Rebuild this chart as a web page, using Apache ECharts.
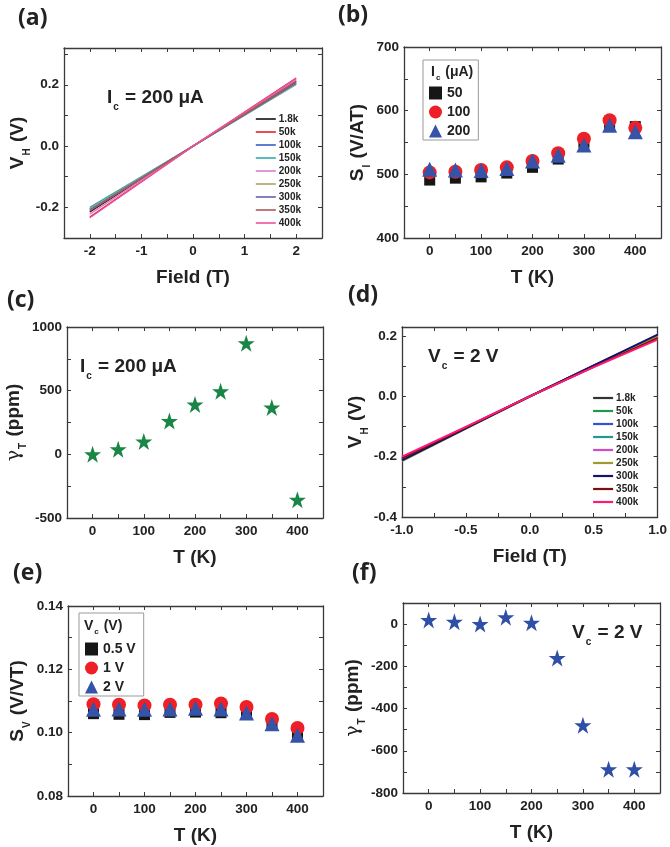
<!DOCTYPE html>
<html>
<head>
<meta charset="utf-8">
<script src="https://cdn.jsdelivr.net/npm/echarts@6/dist/echarts.min.js"></script>
<style>
  html, body { margin: 0; padding: 0; background: #fff; }
  #chart { width: 670px; height: 847px; }
</style>
</head>
<body>
<div id="chart"></div>
<script>
// ---- data ----
const tempK = [0, 50, 100, 150, 200, 250, 300, 350, 400]
const curveNames = ['1.8k', '50k', '100k', '150k', '200k', '250k', '300k', '350k', '400k']

// (a) V_H vs field at Ic = 200 uA
const fieldA = [-2, 0, 2]
const vhA = [
  [-0.215, 0, 0.212],
  [-0.232, 0, 0.222],
  [-0.205, 0, 0.207],
  [-0.200, 0, 0.201],
  [-0.222, 0, 0.216],
  [-0.206, 0, 0.203],
  [-0.209, 0, 0.205],
  [-0.212, 0, 0.210],
  [-0.234, 0, 0.220]
]
const colorsA = ['#111111', '#e8202a', '#3a5cc8', '#35aaa8', '#dd7ccc', '#a8a86a', '#6262a6', '#a85a5a', '#f0509c']

// (b) S_I vs T
const siNames = ['50', '100', '200']
const si50 = [491, 494, 496, 502, 511, 524, 550, 577, 575]
const si100 = [503, 504, 507, 511, 521, 533, 556, 585, 573]
const si200 = [508, 507, 506, 509, 521, 530, 546, 577, 567]

// (c) gamma_T at Ic = 200 uA
const gammaC = [0, 40, 101, 261, 391, 495, 872, 367, -356]

// (d) V_H vs field at Vc = 2 V
const fieldD = [-1, -0.5, 0, 0.5, 1]
const vhD = [
  [-0.210, -0.105, 0, 0.101, 0.198],
  [-0.208, -0.104, 0, 0.101, 0.200],
  [-0.207, -0.104, 0, 0.102, 0.203],
  [-0.206, -0.104, 0, 0.101, 0.199],
  [-0.203, -0.102, 0, 0.099, 0.195],
  [-0.215, -0.107, 0, 0.101, 0.200],
  [-0.212, -0.106, 0, 0.103, 0.205],
  [-0.205, -0.103, 0, 0.098, 0.193],
  [-0.200, -0.101, 0, 0.097, 0.188]
]
const colorsD = ['#333333', '#1f9a4a', '#3355cc', '#1f9898', '#d548c8', '#9c9c28', '#141470', '#7a0f0f', '#ff1a78']

// (e) S_V vs T
const svNames = ['0.5 V', '1 V', '2 V']
const sv05 = [0.1060, 0.1058, 0.1057, 0.1064, 0.1065, 0.1063, 0.1065, 0.1027, 0.0997]
const sv1 = [0.1090, 0.1088, 0.1086, 0.1088, 0.1088, 0.1092, 0.1081, 0.1043, 0.1015]
const sv2 = [0.1074, 0.1075, 0.1074, 0.1075, 0.1077, 0.1075, 0.1062, 0.1028, 0.0992]

// (f) gamma_T at Vc = 2 V
const gammaF = [20, 11, 0, 33, 6, -161, -479, -688, -688]

// ---- ticks ----
const tLabels = [0, 100, 200, 300, 400]
const tTicks = [0, 50, 100, 150, 200, 250, 300, 350, 400]
const fieldALabels = [-2, -1, 0, 1, 2]
const fieldATicks = [-2, -1.5, -1, -0.5, 0, 0.5, 1, 1.5, 2]
const vhALabels = [-0.2, 0, 0.2]
const vhATicks = [-0.3, -0.2, -0.1, 0, 0.1, 0.2, 0.3]
const siLabels = [400, 500, 600, 700]
const siTicks = [400, 450, 500, 550, 600, 650, 700]
const gcLabels = [-500, 0, 500, 1000]
const gcTicks = [-500, -250, 0, 250, 500, 750, 1000]
const fieldDLabels = [-1, -0.5, 0, 0.5, 1]
const fieldDTicks = [-1, -0.75, -0.5, -0.25, 0, 0.25, 0.5, 0.75, 1]
const vhDLabels = [-0.4, -0.2, 0, 0.2]
const vhDTicks = [-0.4, -0.3, -0.2, -0.1, 0, 0.1, 0.2]
const svLabels = [0.08, 0.10, 0.12, 0.14]
const svTicks = [0.08, 0.09, 0.10, 0.11, 0.12, 0.13, 0.14]
const gfLabels = [-800, -600, -400, -200, 0]
const gfTicks = [-800, -700, -600, -500, -400, -300, -200, -100, 0, 100]

const FONT = 'Liberation Sans, Arial, sans-serif'
const AX = '#3a3a3a'
const starPath = 'path://M50,0 L61.8,35.5 L99,35.5 L69,57.5 L80.5,93 L50,71 L19.5,93 L31,57.5 L1,35.5 L38.2,35.5 Z'

const rich = (size) => ({
  m: { fontSize: size, fontWeight: 'bold', fontFamily: FONT, color: '#222', lineHeight: Math.round(size * 1.45) },
  s: { fontSize: Math.round(size * 0.55), fontWeight: 'bold', fontFamily: FONT, color: '#222', verticalAlign: 'bottom', lineHeight: Math.round(size * 0.6), padding: [0, 1, 0, 1] },
  g: { fontSize: size, fontFamily: 'DejaVu Serif, serif', color: '#222', lineHeight: Math.round(size * 1.45) }
})

const grids = [
  { left: 64, top: 48, width: 258, height: 190 },
  { left: 404, top: 47, width: 257, height: 191 },
  { left: 67, top: 327, width: 256, height: 191 },
  { left: 402, top: 327, width: 256, height: 190 },
  { left: 68, top: 606, width: 255, height: 190 },
  { left: 403, top: 603, width: 257, height: 190 }
]

const xAxes = []
const yAxes = []

function addAxes (g, xr, xl, xt, xfmt, xname, yr, yl, yt, yfmt, yname, ygap) {
  const common = {
    type: 'value',
    gridIndex: g,
    axisLine: { show: true, onZero: false, lineStyle: { color: AX, width: 1.3 } },
    splitLine: { show: false }
  }
  xAxes.push(Object.assign({}, common, {
    position: 'bottom', min: xr[0], max: xr[1],
    axisTick: { show: true, inside: true, length: 4, customValues: xt, lineStyle: { color: AX } },
    axisLabel: { customValues: xl, formatter: xfmt, margin: 6, fontSize: 13.5, fontWeight: 'bold', fontFamily: FONT, color: '#222' },
    name: xname, nameLocation: 'middle', nameGap: 26,
    nameTextStyle: { rich: rich(19) }
  }))
  xAxes.push(Object.assign({}, common, {
    position: 'top', min: xr[0], max: xr[1],
    axisTick: { show: true, inside: true, length: 4, customValues: xt, lineStyle: { color: AX } },
    axisLabel: { show: false }
  }))
  yAxes.push(Object.assign({}, common, {
    position: 'left', min: yr[0], max: yr[1],
    axisTick: { show: true, inside: true, length: 4, customValues: yt, lineStyle: { color: AX } },
    axisLabel: { customValues: yl, formatter: yfmt, margin: 5, fontSize: 13.5, fontWeight: 'bold', fontFamily: FONT, color: '#222' },
    name: yname, nameLocation: 'middle', nameRotate: 90, nameGap: ygap,
    nameTextStyle: { rich: rich(19) }
  }))
  yAxes.push(Object.assign({}, common, {
    position: 'right', min: yr[0], max: yr[1],
    axisTick: { show: true, inside: true, length: 4, customValues: yt, lineStyle: { color: AX } },
    axisLabel: { show: false }
  }))
}

const f1 = v => v.toFixed(1)
const f2 = v => v.toFixed(2)
const f0 = v => String(Math.round(v))

addAxes(0, [-2.5, 2.5], fieldALabels, fieldATicks, f0, '{m|Field (T)}',
  [-0.3, 0.32], vhALabels, vhATicks, f1, '{m|V}{s|H}{m| (V)}', 28)
addAxes(1, [-50, 450], tLabels, tTicks, f0, '{m|T (K)}',
  [400, 700], siLabels, siTicks, f0, '{m|S}{s|I}{m| (V/AT)}', 32)
addAxes(2, [-50, 450], tLabels, tTicks, f0, '{m|T (K)}',
  [-500, 1000], gcLabels, gcTicks, f0, '{g|γ}{s|T}{m| (ppm)}', 36)
addAxes(3, [-1, 1], fieldDLabels, fieldDTicks, f1, '{m|Field (T)}',
  [-0.4, 0.23], vhDLabels, vhDTicks, f1, '{m|V}{s|H}{m| (V)}', 32)
addAxes(4, [-50, 450], tLabels, tTicks, f0, '{m|T (K)}',
  [0.08, 0.14], svLabels, svTicks, f2, '{m|S}{s|V}{m| (V/VT)}', 36)
addAxes(5, [-50, 450], tLabels, tTicks, f0, '{m|T (K)}',
  [-800, 100], gfLabels, gfTicks, f0, '{g|γ}{s|T}{m| (ppm)}', 30)

const zip = (xs, ys) => xs.map((x, i) => [x, ys[i]])
const series = []

curveNames.forEach((name, i) => {
  series.push({
    name: 'a-' + name, type: 'line', xAxisIndex: 0, yAxisIndex: 0,
    data: zip(fieldA, vhA[i]), symbol: 'none', color: colorsA[i],
    lineStyle: { width: 1.4 }, silent: true, z: 2 + i
  })
})
const siSeries = [si50, si100, si200]
const markers = [
  { symbol: 'rect', size: 11, color: '#161616' },
  { symbol: 'circle', size: 14, color: '#ee1f26' },
  { symbol: 'triangle', size: 15, color: '#3553a8' }
]
siSeries.forEach((vals, i) => {
  series.push({
    name: siNames[i], type: 'scatter', xAxisIndex: 2, yAxisIndex: 2,
    data: zip(tempK, vals), symbol: markers[i].symbol, symbolSize: markers[i].size,
    color: markers[i].color, itemStyle: { opacity: 1 }, z: 2 + i
  })
})
series.push({
  name: 'gammaC', type: 'scatter', xAxisIndex: 4, yAxisIndex: 4,
  data: zip(tempK, gammaC), symbol: starPath, symbolSize: 17, color: '#1a8646',
  itemStyle: { opacity: 1 }
})
curveNames.forEach((name, i) => {
  series.push({
    name: 'd-' + name, type: 'line', xAxisIndex: 6, yAxisIndex: 6,
    data: zip(fieldD, vhD[i]), symbol: 'none', color: colorsD[i],
    lineStyle: { width: 2 }, silent: true, z: 2 + i
  })
})
const svSeries = [sv05, sv1, sv2]
svSeries.forEach((vals, i) => {
  series.push({
    name: svNames[i], type: 'scatter', xAxisIndex: 8, yAxisIndex: 8,
    data: zip(tempK, vals), symbol: markers[i].symbol, symbolSize: markers[i].size,
    color: markers[i].color, itemStyle: { opacity: 1 }, z: 2 + i
  })
})
series.push({
  name: 'gammaF', type: 'scatter', xAxisIndex: 10, yAxisIndex: 10,
  data: zip(tempK, gammaF), symbol: starPath, symbolSize: 17, color: '#2f4fa6',
  itemStyle: { opacity: 1 }
})

const lineLegend = (prefix, left, top, width) => ({
  data: curveNames.map(n => prefix + n),
  formatter: n => n.slice(2),
  orient: 'vertical', left: left, top: top,
  itemWidth: 20, itemHeight: 10, itemGap: 3, padding: 0,
  itemStyle: { opacity: 0 },
  lineStyle: { width: width },
  textStyle: { fontSize: 10, fontWeight: 'bold', fontFamily: FONT, color: '#222', lineHeight: 10, padding: [0, 0, 0, -2] },
  selectedMode: false
})
const markLegend = (names, left, top, padTop) => ({
  data: names,
  orient: 'vertical', left: left, top: top,
  itemWidth: 13, itemHeight: 13, itemGap: 5,
  padding: [padTop, 8, 2, 6],
  borderColor: '#999', borderWidth: 1,
  textStyle: { fontSize: 14, fontWeight: 'bold', fontFamily: FONT, color: '#222' },
  selectedMode: false
})

const label = (text, x, y, size) => ({
  type: 'text', x: x, y: y,
  style: { text: text, rich: rich(size), verticalAlign: 'middle', fill: '#222' }
})
const letter = (text, x, y) => ({
  type: 'text', x: x, y: y,
  style: { text: text, font: 'bold 23px "Open Sans", sans-serif', fill: '#222', verticalAlign: 'middle' }
})

const option = {
  animation: false,
  backgroundColor: '#fff',
  grid: grids,
  xAxis: xAxes,
  yAxis: yAxes,
  legend: [
    lineLegend('a-', 255, 114, 1.6),
    markLegend(siNames, 423, 60, 26),
    lineLegend('d-', 592, 393, 2.2),
    markLegend(svNames, 79, 613, 29)
  ],
  graphic: [
    letter('(a)', 18, 18),
    letter('(b)', 338, 15),
    letter('(c)', 7, 300),
    letter('(d)', 348, 295),
    letter('(e)', 13, 573),
    letter('(f)', 352, 573),
    label('{m|I}{s|c}{m| = 200 μA}', 107, 98, 19),
    label('{m|I}{s|c}{m| = 200 μA}', 80, 367, 19),
    label('{m|V}{s|c}{m| = 2 V}', 428, 357, 19),
    label('{m|V}{s|c}{m| = 2 V}', 572, 633, 19),
    label('{m|I}{s|c}{m| (μA)}', 431, 72, 14),
    label('{m|V}{s|c}{m| (V)}', 84, 626, 14)
  ],
  series: series
}

const chart = echarts.init(document.getElementById('chart'))
chart.setOption(option)
</script>
</body>
</html>
